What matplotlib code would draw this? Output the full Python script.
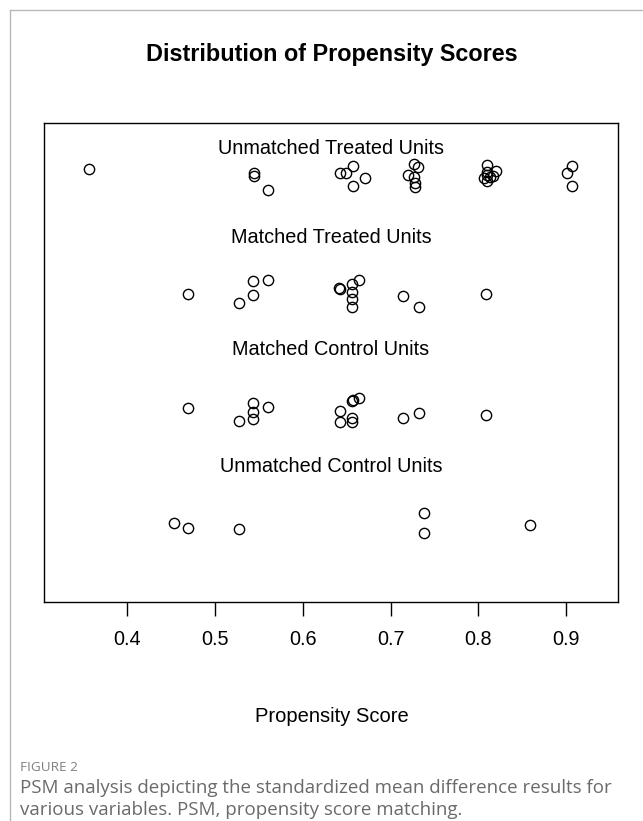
import matplotlib
matplotlib.use("Agg")
import matplotlib.pyplot as plt
from matplotlib.lines import Line2D

plt.rcParams['font.family'] = ['Liberation Sans', 'DejaVu Sans']

# ---- data (propensity score, jittered row position) ----
unmatched_treated_x = [0.357, 0.545, 0.545, 0.560, 0.642, 0.649, 0.657, 0.671, 0.657,
                       0.7265, 0.731, 0.720, 0.7265, 0.728, 0.728,
                       0.8097, 0.8097, 0.8097, 0.813, 0.807, 0.8097, 0.820, 0.8165,
                       0.907, 0.901, 0.907]
unmatched_treated_y = [4.061, 4.029, 4.001, 3.880, 4.029, 4.029, 4.089, 3.981, 3.915,
                       4.104, 4.078, 4.009, 3.992, 3.941, 3.906,
                       4.095, 4.035, 4.009, 3.992, 3.984, 3.958, 4.044, 4.001,
                       4.089, 4.029, 3.915]

matched_treated_x = [0.470, 0.528, 0.544, 0.544, 0.560, 0.641, 0.642, 0.656, 0.656,
                     0.656, 0.656, 0.664, 0.714, 0.732, 0.809]
matched_treated_y = [2.986, 2.911, 2.978, 3.098, 3.107, 3.035, 3.029, 3.072, 3.006,
                     2.943, 2.877, 3.107, 2.969, 2.872, 2.984]

matched_control_x = [0.470, 0.528, 0.544, 0.544, 0.544, 0.560, 0.642, 0.642, 0.656,
                     0.657, 0.664, 0.656, 0.656, 0.714, 0.732, 0.809]
matched_control_y = [2.003, 1.894, 2.046, 1.974, 1.909, 2.017, 1.980, 1.883, 2.066,
                     2.075, 2.095, 1.917, 1.883, 1.917, 1.966, 1.946]

unmatched_control_x = [0.454, 0.470, 0.528, 0.738, 0.738, 0.859]
unmatched_control_y = [1.020, 0.977, 0.963, 1.101, 0.934, 1.000]

group_labels = ["Unmatched Treated Units", "Matched Treated Units",
                "Matched Control Units", "Unmatched Control Units"]
label_y = [4.242, 3.476, 2.505, 1.499]
x_ticks = [0.4, 0.5, 0.6, 0.7, 0.8, 0.9]

W, H = 643, 821
fig = plt.figure(figsize=(W / 100, H / 100), dpi=100)

# outer frame lines (left and top)
fig.add_artist(Line2D([10 / W, 10 / W], [0, 1 - 10 / H], transform=fig.transFigure,
                      color='#b8b8b8', lw=1.0))
fig.add_artist(Line2D([10 / W, 1], [1 - 10 / H, 1 - 10 / H], transform=fig.transFigure,
                      color='#b8b8b8', lw=1.0))

ax = fig.add_axes([44 / W, 1 - 602 / H, (618 - 44) / W, (602 - 123) / H])
mk = dict(marker='o', linestyle='none', markersize=7.4, markerfacecolor='none',
          markeredgecolor='black', markeredgewidth=1.0)
ax.plot(unmatched_treated_x, unmatched_treated_y, **mk)
ax.plot(matched_treated_x, matched_treated_y, **mk)
ax.plot(matched_control_x, matched_control_y, **mk)
ax.plot(unmatched_control_x, unmatched_control_y, **mk)

ax.set_xlim(0.3055, 0.959)
ax.set_ylim(0.338, 4.457)
xc = (0.3055 + 0.959) / 2
for lab, yy in zip(group_labels, label_y):
    ax.text(xc, yy, lab, ha='center', va='center', fontsize=14.3)

ax.set_xticks(x_ticks)
ax.set_xticklabels([f"{t:.1f}" for t in x_ticks])
ax.set_yticks([])
ax.tick_params(axis='x', direction='out', length=10, width=1.0, pad=10, labelsize=14.3)
for s in ax.spines.values():
    s.set_linewidth(1.0)

fig.text(332 / W, 1 - 716 / H, "Propensity Score", ha='center', va='center', fontsize=14.5)
fig.text(332 / W, 1 - 54 / H, "Distribution of Propensity Scores", ha='center', va='center',
         fontsize=16.8, fontweight='bold')

cap_font = ['Open Sans', 'DejaVu Sans']
fig.text(20 / W, 1 - 767 / H, "FIGURE 2", ha='left', va='center', fontsize=9.7,
         color='#808080', family=cap_font)
fig.text(20 / W, 1 - 793 / H,
         "PSM analysis depicting the standardized mean difference results for",
         ha='left', va='baseline', fontsize=13.5, color='#6a6a6a', family=cap_font)
fig.text(20 / W, 1 - 815 / H, "various variables. PSM, propensity score matching.",
         ha='left', va='baseline', fontsize=13.5, color='#6a6a6a', family=cap_font)

fig.savefig("out.png", dpi=100)
